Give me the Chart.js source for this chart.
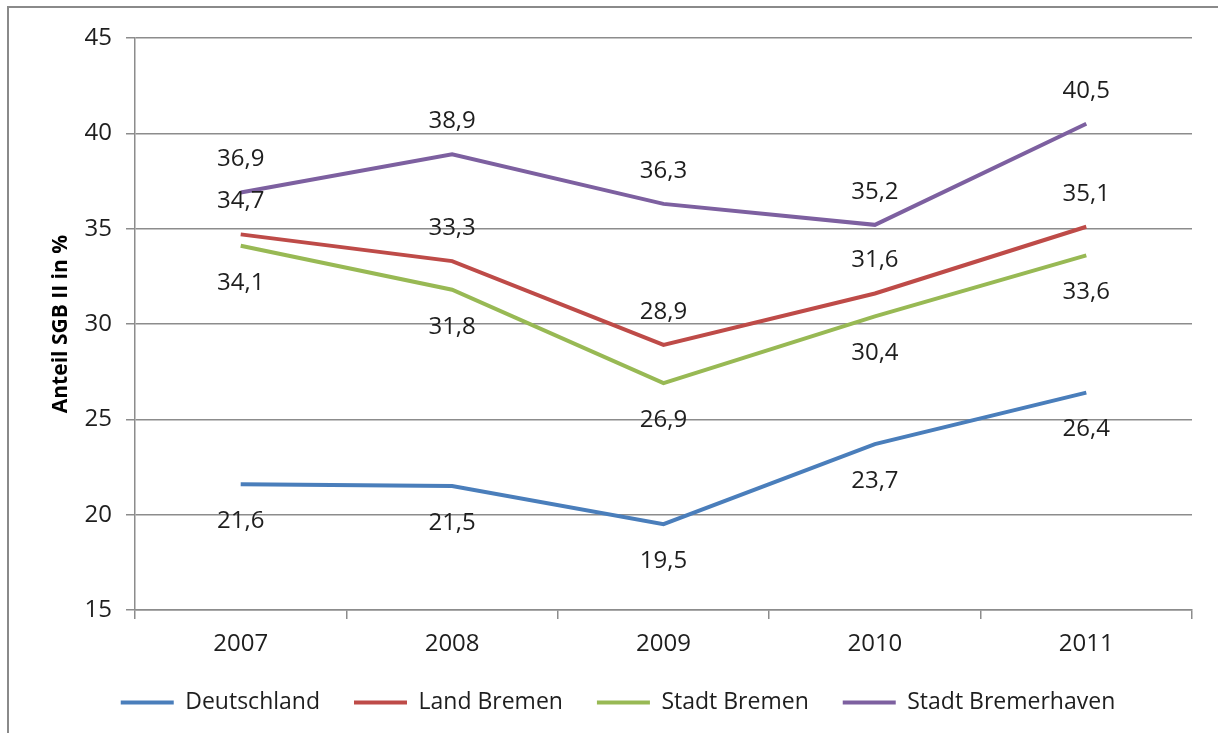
<!DOCTYPE html>
<html>
<head>
<meta charset="utf-8">
<script src="https://cdn.jsdelivr.net/npm/chart.js@4/dist/chart.umd.min.js"></script>
<style>
  html, body { margin: 0; padding: 0; background: #ffffff; }
  #wrap { width: 1218px; height: 733px; position: relative; }
</style>
</head>
<body>
<div id="wrap"><canvas id="c" width="1218" height="733"></canvas></div>
<script>
// Anteil SGB II (in %) nach Region, 2007–2011
const years = ['2007', '2008', '2009', '2010', '2011'];
const deutschland = [21.6, 21.5, 19.5, 23.7, 26.4];
const landBremen = [34.7, 33.3, 28.9, 31.6, 35.1];
const stadtBremen = [34.1, 31.8, 26.9, 30.4, 33.6];
const stadtBremerhaven = [36.9, 38.9, 36.3, 35.2, 40.5];
const seriesNames = ['Deutschland', 'Land Bremen', 'Stadt Bremen', 'Stadt Bremerhaven'];
const seriesColors = ['#4a7ebb', '#be4b48', '#98b954', '#7d60a0'];
// label placement per series: -1 above the point, +1 below
const labelSide = [1, -1, 1, -1];

const FONT = "'Open Sans', 'Liberation Sans', sans-serif";
const TEXT = '#1e1e1e';
const GRID = '#8c8c8c';

const frame = {
  id: 'frame',
  beforeDraw(chart) {
    const ctx = chart.ctx;
    ctx.save();
    ctx.fillStyle = '#ffffff';
    ctx.fillRect(0, 0, chart.width, chart.height);
    ctx.strokeStyle = '#8a8a8a';
    ctx.lineWidth = 2;
    ctx.strokeRect(8, 7, chart.width + 20, chart.height + 20);
    ctx.restore();
  }
};

// centre the legend on the whole canvas rather than the padded box
const legendShift = {
  id: 'legendShift',
  afterLayout(chart) {
    if (chart.legend) {
      chart.legend.left += 22;
      chart.legend.right += 22;
    }
  }
};

const valueLabels = {
  id: 'valueLabels',
  afterDatasetsDraw(chart) {
    const ctx = chart.ctx;
    ctx.save();
    ctx.font = '24px ' + FONT;
    ctx.fillStyle = TEXT;
    ctx.textAlign = 'center';
    ctx.textBaseline = 'middle';
    chart.data.datasets.forEach((ds, i) => {
      const meta = chart.getDatasetMeta(i);
      meta.data.forEach((pt, j) => {
        const dy = labelSide[i] < 0 ? -33 : 37;
        const txt = ds.data[j].toFixed(1).replace('.', ',');
        ctx.fillText(txt, pt.x, pt.y + dy);
      });
    });
    ctx.restore();
  }
};

const allSeries = [deutschland, landBremen, stadtBremen, stadtBremerhaven];

new Chart(document.getElementById('c'), {
  type: 'line',
  data: {
    labels: years,
    datasets: allSeries.map((vals, i) => ({
      label: seriesNames[i],
      data: vals,
      borderColor: seriesColors[i],
      backgroundColor: seriesColors[i],
      borderWidth: 4,
      pointRadius: 0,
      pointHoverRadius: 0,
      tension: 0,
      fill: false
    }))
  },
  options: {
    responsive: false,
    animation: false,
    devicePixelRatio: 1,
    layout: { padding: { left: 0, top: 38, right: 26, bottom: 9 } },
    plugins: {
      tooltip: { enabled: false },
      legend: {
        position: 'bottom',
        labels: {
          usePointStyle: true,
          pointStyle: 'line',
          pointStyleWidth: 53,
          boxHeight: 22,
          padding: 34,
          color: TEXT,
          font: { family: FONT, size: 23 }
        }
      }
    },
    scales: {
      x: {
        offset: true,
        grid: {
          offset: true,
          drawOnChartArea: false,
          drawTicks: true,
          tickLength: 9,
          color: GRID,
          lineWidth: 1.5
        },
        border: { display: true, color: GRID, width: 1.5 },
        ticks: { color: TEXT, font: { family: FONT, size: 24 }, padding: 11 },
        afterFit(scale) { scale.height = 47; }
      },
      y: {
        min: 15,
        max: 45,
        ticks: { stepSize: 5, color: TEXT, font: { family: FONT, size: 24 }, padding: 14 },
        grid: { color: GRID, lineWidth: 1.5, tickLength: 9 },
        border: { display: true, color: GRID, width: 1.5 },
        title: {
          display: true,
          text: 'Anteil SGB II in %',
          color: '#000000',
          font: { family: FONT, size: 21, weight: 'bold' },
          padding: { top: 48, bottom: 0 }
        },
        afterFit(scale) { scale.width = 135; }
      }
    }
  },
  plugins: [frame, legendShift, valueLabels]
});
</script>
</body>
</html>
